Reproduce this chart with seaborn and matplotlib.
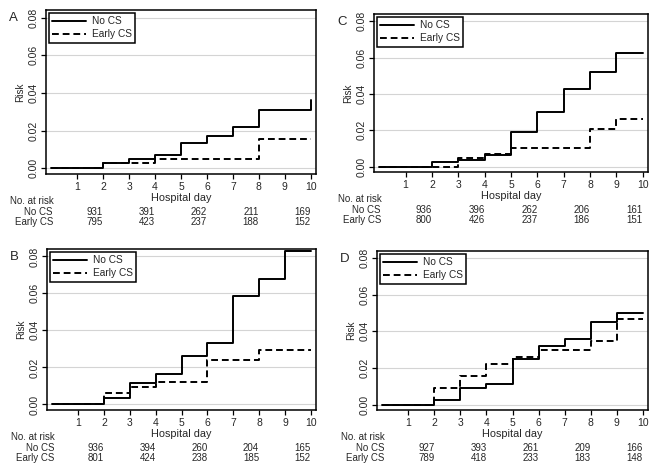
import numpy as np
import pandas as pd
import matplotlib
matplotlib.use("Agg")
import matplotlib.pyplot as plt
import seaborn as sns

days = list(range(0, 11))
groups = ["No CS", "Early CS"]

a_no_cs = [0, 0, 0.0030, 0.0049, 0.0071, 0.0132, 0.0174, 0.0219, 0.0310, 0.0310, 0.0360]
a_early = [0, 0, 0.0026, 0.0026, 0.0049, 0.0049, 0.0049, 0.0049, 0.0155, 0.0155, 0.0155]
c_no_cs = [0, 0, 0.0023, 0.0038, 0.0063, 0.0190, 0.0300, 0.0428, 0.0520, 0.0625, 0.0625]
c_early = [0, 0, 0, 0.0047, 0.0068, 0.0100, 0.0100, 0.0100, 0.0207, 0.0264, 0.0264]
b_no_cs = [0, 0, 0.0035, 0.0115, 0.0165, 0.0260, 0.0330, 0.0587, 0.0680, 0.0830, 0.0830]
b_early = [0, 0, 0.0062, 0.0096, 0.0120, 0.0120, 0.0242, 0.0242, 0.0295, 0.0295, 0.0295]
d_no_cs = [0, 0, 0.0025, 0.0088, 0.0114, 0.0249, 0.0320, 0.0360, 0.0450, 0.0500, 0.0500]
d_early = [0, 0, 0.0088, 0.0154, 0.0223, 0.0258, 0.0300, 0.0300, 0.0350, 0.0470, 0.0470]

risk_days = [2, 4, 6, 8, 10]
a_risk_no = [931, 391, 262, 211, 169]
a_risk_early = [795, 423, 237, 188, 152]
c_risk_no = [936, 396, 262, 206, 161]
c_risk_early = [800, 426, 237, 186, 151]
b_risk_no = [936, 394, 260, 204, 165]
b_risk_early = [801, 424, 238, 185, 152]
d_risk_no = [927, 393, 261, 209, 166]
d_risk_early = [789, 418, 233, 183, 148]

x_ticks = list(range(1, 11))
y_ticks = [0.00, 0.02, 0.04, 0.06, 0.08]

sns.set_theme(style="white")
plt.rcParams["font.family"] = ["Liberation Sans", "DejaVu Sans"]

W, H = 654, 473
fig = plt.figure(figsize=(W / 100, H / 100), dpi=100)

panels = [
    ("A", (46, 10, 316, 174), a_no_cs, a_early, a_risk_no, a_risk_early),
    ("C", (374, 14, 648, 172), c_no_cs, c_early, c_risk_no, c_risk_early),
    ("B", (47, 249, 316, 410), b_no_cs, b_early, b_risk_no, b_risk_early),
    ("D", (377, 251, 648, 410), d_no_cs, d_early, d_risk_no, d_risk_early),
]

for letter, (l, t, r, b), no_cs, early, rn, re in panels:
    ax = fig.add_axes([l / W, 1 - b / H, (r - l) / W, (b - t) / H])
    df = pd.DataFrame({
        "day": days * 2,
        "risk": no_cs + early,
        "group": [groups[0]] * len(days) + [groups[1]] * len(days),
    })
    sns.lineplot(data=df, x="day", y="risk", hue="group", style="group",
                 hue_order=groups, style_order=groups,
                 palette=["black", "black"],
                 dashes={"No CS": "", "Early CS": (3.5, 2)},
                 drawstyle="steps-post", linewidth=1.4, ax=ax, legend=True)
    ax.set_xlim(-0.2, 10.2)
    ax.set_ylim(-0.003, 0.084)
    ax.set_xticks(x_ticks)
    ax.set_yticks(y_ticks)
    ax.set_yticklabels([f"{v:.2f}" for v in y_ticks], rotation=90, va="center")
    ax.tick_params(axis="both", labelsize=7.5, length=3.5, width=0.9, color="black",
                   pad=2, bottom=True, left=True, direction="out")
    ax.grid(axis="y", color="#d4d4d4", linewidth=0.8)
    ax.set_axisbelow(True)
    for s in ax.spines.values():
        s.set_color("black")
        s.set_linewidth(1.1)
    ax.set_xlabel("Hospital day", fontsize=7.8, labelpad=1)
    ax.set_ylabel("Risk", fontsize=7.2, labelpad=2)
    handles, labels = ax.get_legend_handles_labels()
    leg = ax.legend(handles, labels, loc="upper left", fontsize=7.3, frameon=True,
                    fancybox=False, edgecolor="black", framealpha=1,
                    handlelength=3.3, borderpad=0.35, labelspacing=0.3,
                    borderaxespad=0.25, handletextpad=0.6)
    leg.get_frame().set_linewidth(1.1)

    # panel letter
    fig.text((l - 37) / W, 1 - (t + 2) / H, letter, fontsize=9.5, ha="left", va="top")
    # risk table
    fig.text((l - 36) / W, 1 - (b + 27) / H, "No. at risk", fontsize=7, ha="left", va="center")
    fig.text((l + 7) / W, 1 - (b + 38) / H, "No CS", fontsize=7, ha="right", va="center")
    fig.text((l + 7) / W, 1 - (b + 48) / H, "Early CS", fontsize=7, ha="right", va="center")
    for d, v1, v2 in zip(risk_days, rn, re):
        ax.annotate(str(v1), xy=(d, 0), xycoords=("data", "axes fraction"),
                    xytext=(0, -38 * 0.72), textcoords="offset points",
                    ha="right", va="center", fontsize=7)
        ax.annotate(str(v2), xy=(d, 0), xycoords=("data", "axes fraction"),
                    xytext=(0, -48 * 0.72), textcoords="offset points",
                    ha="right", va="center", fontsize=7)

fig.savefig("out.png", dpi=100)
